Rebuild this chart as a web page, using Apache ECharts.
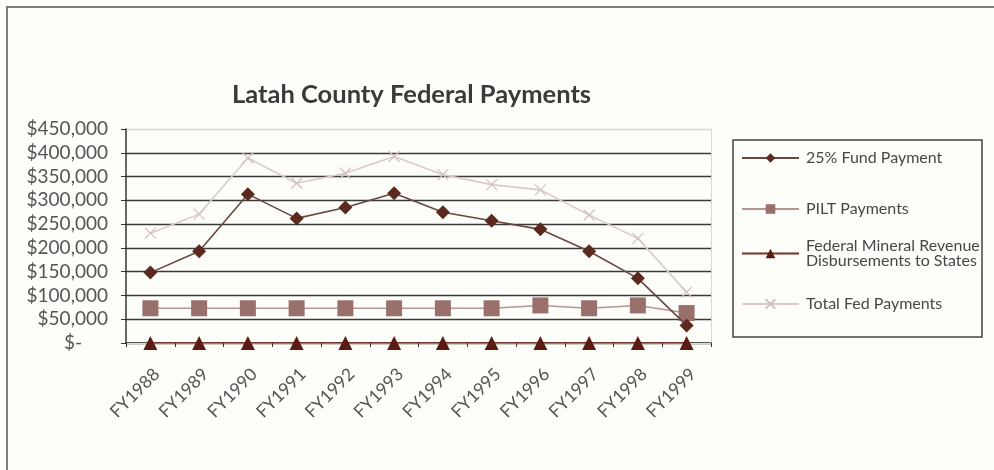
<!DOCTYPE html>
<html>
<head>
<meta charset="utf-8">
<script src="https://cdn.jsdelivr.net/npm/echarts@6/dist/echarts.min.js"></script>
<style>
  html, body { margin: 0; padding: 0; background: #fdfdf9; }
  #chart { width: 994px; height: 470px; }
</style>
</head>
<body>
<div id="chart"></div>
<script>
// Fiscal years on the category axis
const years = ['FY1988', 'FY1989', 'FY1990', 'FY1991', 'FY1992', 'FY1993',
               'FY1994', 'FY1995', 'FY1996', 'FY1997', 'FY1998', 'FY1999'];

// Payment series (US dollars)
const fundPayment    = [148000, 193000, 313000, 262000, 285000, 315000, 275000, 257000, 239000, 193000, 136000, 37000];
const piltPayments   = [73000, 73000, 73000, 73000, 73000, 73000, 73000, 73000, 79000, 73000, 79000, 63000];
const mineralRevenue = [0, 0, 0, 0, 0, 0, 0, 0, 0, 0, 0, 0];
const totalFed       = [231000, 271000, 389000, 336000, 357000, 392000, 354000, 333000, 322000, 269000, 220000, 107000];

// Value axis range and step
const yMin = 0, yMax = 450000, yStep = 50000;

const FONT = 'Lato, "Open Sans", sans-serif';
const names = ['25% Fund Payment', 'PILT Payments',
               'Federal Mineral Revenue\nDisbursements to States', 'Total Fed Payments'];

function money(v) {
  if (v === 0) return '{z|$-}';
  return '$' + v.toLocaleString('en-US');
}

// grid lines: dark inside, light on the plot border at the top
const gridColors = [];
for (let v = yMin; v <= yMax; v += yStep) gridColors.push(v === yMax ? '#d8d8d4' : '#3a3a3a');

function legendAt(name, top) {
  return {
    data: [name], left: 741, top: top, orient: 'vertical', padding: 0,
    itemWidth: 57, itemHeight: 12,
    textStyle: { fontFamily: FONT, fontSize: 16, color: '#474747', lineHeight: 15, padding: [0, 0, 0, 2] },
    selectedMode: false
  };
}

const chart = echarts.init(document.getElementById('chart'), null, { renderer: 'canvas' });
chart.setOption({
  backgroundColor: '#fdfdf9',
  animation: false,
  title: {
    text: 'Latah County Federal Payments',
    left: 227, top: 77,
    textStyle: { fontFamily: FONT, fontSize: 25.5, fontWeight: 'bold', color: '#3a3a3a' }
  },
  legend: [
    legendAt(names[0], 150),
    legendAt(names[1], 201),
    legendAt(names[2], 238),
    legendAt(names[3], 296)
  ],
  graphic: [
    { type: 'rect', shape: { x: 7, y: 7, width: 1000, height: 480 },
      style: { fill: null, stroke: '#7d7d7b', lineWidth: 2 }, silent: true },
    { type: 'rect', shape: { x: 733, y: 140, width: 249, height: 197 },
      style: { fill: null, stroke: '#444', lineWidth: 1.5 }, silent: true }
  ],
  grid: { left: 126, right: 283, top: 129, bottom: 127, containLabel: false },
  xAxis: [{
    type: 'category', data: years, boundaryGap: true,
    axisLine: { lineStyle: { color: '#333', width: 1.5 } },
    axisTick: { show: true, length: 4, interval: 0, alignWithLabel: false, lineStyle: { color: '#333' } },
    axisLabel: { rotate: 45, interval: 0, fontFamily: FONT, fontSize: 17.5, color: '#555',
                 margin: 22, verticalAlign: 'top' },
    splitLine: { show: false }
  }, {
    type: 'category', data: years, position: 'top',
    axisLine: { lineStyle: { color: '#d8d8d4', width: 1 } },
    axisTick: { show: false }, axisLabel: { show: false }, splitLine: { show: false }
  }],
  yAxis: [{
    type: 'value', min: yMin, max: yMax, interval: yStep,
    axisLine: { show: true, lineStyle: { color: '#333', width: 1.5 } },
    axisTick: { show: true, length: 5, lineStyle: { color: '#333' } },
    axisLabel: {
      formatter: money, fontFamily: FONT, fontSize: 19, color: '#555', margin: 18,
      rich: { z: { fontFamily: FONT, fontSize: 19, color: '#555', padding: [0, 26, 0, 0] } }
    },
    splitLine: { show: true, lineStyle: { color: gridColors, width: 1.3 } }
  }, {
    type: 'value', min: 0, max: 1, position: 'right',
    axisLine: { show: true, lineStyle: { color: '#d8d8d4', width: 1 } },
    axisTick: { show: false }, axisLabel: { show: false }, splitLine: { show: false }
  }],
  series: [
    {
      name: names[0], type: 'line', data: fundPayment,
      symbol: 'diamond', symbolSize: 14,
      itemStyle: { color: '#5a2a1f' },
      lineStyle: { color: '#6a4740', width: 1.6 },
      z: 4
    },
    {
      name: names[1], type: 'line', data: piltPayments,
      symbol: 'rect', symbolSize: 16,
      itemStyle: { color: '#9a706c' },
      lineStyle: { color: '#b69592', width: 1.6 },
      z: 3
    },
    {
      name: names[2], type: 'line', data: mineralRevenue,
      symbol: 'triangle', symbolSize: 14,
      itemStyle: { color: '#5a1c12' },
      lineStyle: { color: '#7b2e22', width: 1.6 },
      z: 5
    },
    {
      name: names[3], type: 'line', data: totalFed,
      symbol: 'path://M0,0L10,10M10,0L0,10', symbolSize: 11,
      itemStyle: { color: 'rgba(0,0,0,0)', borderColor: '#d3c2c2', borderWidth: 1.3 },
      lineStyle: { color: '#dacbcb', width: 1.6 },
      z: 2
    }
  ]
});
</script>
</body>
</html>
